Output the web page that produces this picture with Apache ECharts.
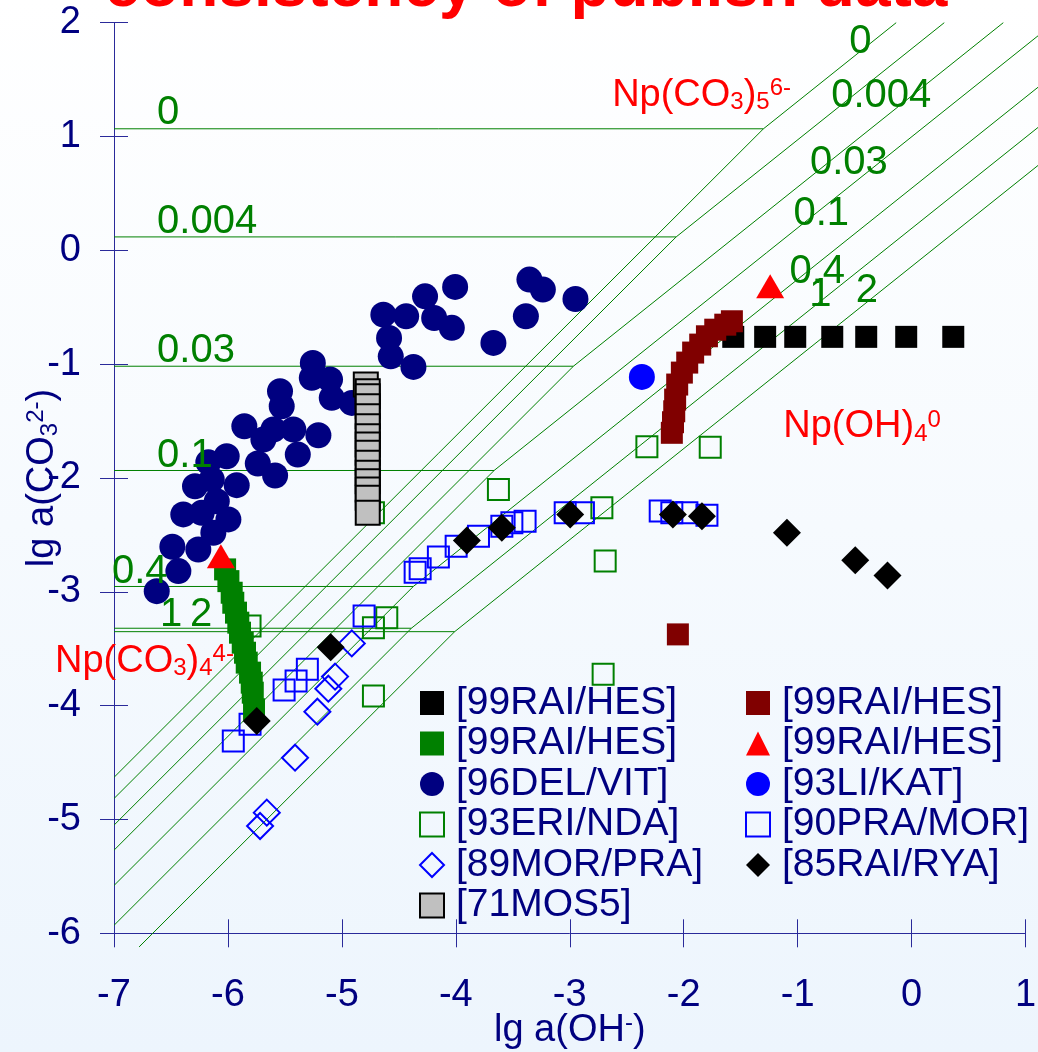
<!DOCTYPE html>
<html>
<head>
<meta charset="utf-8">
<script src="https://cdn.jsdelivr.net/npm/echarts@6/dist/echarts.min.js"></script>
<style>
html, body { margin: 0; padding: 0; }
#main { width: 1038px; height: 1052px; }
</style>
</head>
<body>
<div id="main"></div>
<script>
var FONT = '"Liberation Sans", Arial, sans-serif';
var NAVY = '#000080';
var AXIS = '#2a2a9a';
var GREEN = '#008000';
var RED = '#ff0000';

// lg a(OH-), lg a(CO3 2-) pairs
var blackSquares = [[-1.565,-0.76],[-1.285,-0.76],[-1.021,-0.76],[-0.696,-0.76],[-0.398,-0.76],[-0.047,-0.76],[0.366,-0.76]];
var maroonSquares = [[-2.104,-1.603],[-2.094,-1.51],[-2.083,-1.414],[-2.075,-1.311],[-2.057,-1.179],[-2.016,-1.074],[-1.969,-0.986],
  [-1.917,-0.898],[-1.855,-0.828],[-1.796,-0.755],[-1.723,-0.697],[-1.635,-0.653],[-1.577,-0.623],[-2.051,-3.374]];
var greenSquares = [[-6.025,-2.803],[-5.996,-2.906],[-5.967,-3.008],[-5.953,-3.096],[-5.929,-3.183],[-5.909,-3.271],[-5.894,-3.359],
  [-5.870,-3.447],[-5.850,-3.535],[-5.835,-3.622],[-5.806,-3.710],[-5.791,-3.798],[-5.782,-3.886],[-5.771,-4.032]];
var redTriangles = [[-6.062,-2.687],[-1.241,-0.316]];
var navyCircles = [[-6.625,-2.994],[-6.488,-2.604],[-6.435,-2.818],[-6.392,-2.320],[-6.289,-2.072],[-6.260,-2.628],[-6.230,-2.306],
  [-6.172,-1.861],[-6.142,-2.013],[-6.128,-2.481],[-6.098,-2.204],[-6.011,-1.809],[-5.996,-2.364],[-5.923,-2.063],[-5.856,-1.545],
  [-5.738,-1.873],[-5.689,-1.662],[-5.601,-1.574],[-5.586,-1.978],[-5.543,-1.238],[-5.528,-1.370],[-5.426,-1.574],[-5.387,-1.794],
  [-5.264,-1.120],[-5.255,-0.989],[-5.206,-1.624],[-5.104,-1.135],[-5.089,-1.296],[-4.913,-1.340],[-4.636,-0.565],[-4.586,-0.769],
  [-4.571,-0.931],[-4.436,-0.579],[-4.372,-1.024],[-4.270,-0.404],[-4.190,-0.594],[-4.035,-0.681],[-4.006,-0.321],[-3.670,-0.813],
  [-3.385,-0.579],[-3.354,-0.257],[-3.236,-0.345],[-2.950,-0.427]];
var blueCircle = [[-2.367,-1.112]];
var greenHollow = [[-4.723,-2.306],[-3.626,-2.101],[-4.606,-3.227],[-4.723,-3.315],[-5.806,-3.301],[-4.723,-3.916],[-2.718,-2.262],
  [-2.323,-1.726],[-1.767,-1.730],[-2.689,-2.730],[-2.707,-3.725]];
var blueHollow = [[-5.953,-4.311],[-5.806,-4.164],[-5.507,-3.863],[-5.402,-3.784],[-5.303,-3.681],[-4.805,-3.213],[-4.357,-2.827],
  [-4.313,-2.797],[-4.153,-2.695],[-3.997,-2.599],[-3.801,-2.511],[-3.596,-2.423],[-3.508,-2.394],[-3.392,-2.379],[-3.04,-2.306],
  [-2.88,-2.306],[-2.206,-2.291],[-2.104,-2.306],[-1.972,-2.306],[-1.796,-2.327]];
var blueDiamonds = [[-4.913,-3.453],[-5.060,-3.745],[-5.119,-3.851],[-5.215,-4.053],[-5.411,-4.457],[-5.659,-4.940],[-5.718,-5.057]];
var blackDiamonds = [[-5.747,-4.135],[-5.098,-3.486],[-3.903,-2.549],[-3.596,-2.437],[-2.996,-2.320],[-2.095,-2.320],[-1.840,-2.335],
  [-1.094,-2.481],[-0.494,-2.722],[-0.211,-2.856]];
var greySquares = [[-4.790,-1.179],[-4.773,-1.238],[-4.773,-1.282],[-4.773,-1.370],[-4.773,-1.457],[-4.773,-1.545],[-4.773,-1.633],
  [-4.773,-1.706],[-4.773,-1.779],[-4.773,-1.867],[-4.773,-1.954],[-4.773,-2.028],[-4.773,-2.101],[-4.773,-2.174],[-4.773,-2.306]];

// predominance boundaries, one per ionic strength
var ionLabels = ['0', '0.004', '0.03', '0.1', '0.4', '1', '2'];
var triX = [-1.30, -2.066, -2.968, -3.664, -4.373, -4.39, -4.01];
var triY = [1.068, 0.118, -1.018, -1.934, -2.953, -3.32, -3.35];
var upX = [-0.135, 0.287, 0.805, 1.12, 1.12, 1.12, 1.12];
var upY = [2, 2, 2, 1.893, 1.441, 1.088, 0.754];
var lowX = [-7, -7, -7, -7, -7, -7, -6.78];
var lowY = [-4.63, -4.816, -5.05, -5.27, -5.58, -5.93, -6.12];

// label anchors
var leftLabelText = ['0', '0.004', '0.03', '0.1', '0.4', '1', '2'];
var leftLabelX = [-6.622, -6.622, -6.622, -6.622, -7.018, -6.596, -6.333];
var leftLabelY = [1.205, 0.252, -0.885, -1.807, -2.825, -3.203, -3.203];
var rightLabelX = [-0.450, -0.266, -0.550, -0.793, -0.828, -0.801, -0.392];
var rightLabelY = [1.828, 1.358, 0.770, 0.322, -0.187, -0.389, -0.358];
var speciesText = ['{m|Np(CO}{s|3}{m|)}{s|5}{p|6-}', '{m|Np(CO}{s|3}{m|)}{s|4}{p|4-}', '{m|Np(OH)}{s|4}{p|0}'];
var speciesX = [-2.628, -7.518, -1.126];
var speciesY = [1.358, -3.615, -1.552];

var legendNames = {
  rhBlack: '[99RAI/HES]', rhGreen: '[99RAI/HES]', delvit: '[96DEL/VIT]', erinda: '[93ERI/NDA]',
  morpra: '[89MOR/PRA]', mos: '[71MOS5]', rhMaroon: '[99RAI/HES]', rhRed: '[99RAI/HES]',
  likat: '[93LI/KAT]', pramor: '[90PRA/MOR]', rairya: '[85RAI/RYA]'
};

function rich(color) {
  return {
    m: { fontSize: 38, lineHeight: 38, color: color, fontFamily: FONT, verticalAlign: 'middle' },
    s: { fontSize: 24, lineHeight: 14, color: color, fontFamily: FONT, verticalAlign: 'bottom' },
    p: { fontSize: 24, lineHeight: 8, color: color, fontFamily: FONT, verticalAlign: 'top' }
  };
}

var boundaryLines = [];
for (var i = 0; i < ionLabels.length; i++) {
  boundaryLines.push({ coords: [[-7, triY[i]], [triX[i], triY[i]], [upX[i], upY[i]]] });
  boundaryLines.push({ coords: [[triX[i], triY[i]], [lowX[i], lowY[i]]] });
}

var annotations = [];
for (var i = 0; i < leftLabelText.length; i++) {
  annotations.push({ value: [leftLabelX[i], leftLabelY[i]], label: { formatter: leftLabelText[i], align: 'left', color: GREEN, fontSize: 40, lineHeight: 40 } });
}
for (var i = 0; i < ionLabels.length; i++) {
  annotations.push({ value: [rightLabelX[i], rightLabelY[i]], label: { formatter: ionLabels[i], align: 'center', color: GREEN, fontSize: 40, lineHeight: 40 } });
}
for (var i = 0; i < speciesText.length; i++) {
  annotations.push({ value: [speciesX[i], speciesY[i]], label: { formatter: speciesText[i], align: 'left', rich: rich(RED) } });
}

function scatter(name, data, symbol, size, style) {
  style.opacity = 1;
  return { name: name, type: 'scatter', data: data, symbol: symbol, symbolSize: size,
    itemStyle: style, silent: true, emphasis: { disabled: true } };
}

var hollow = function (c) { return { color: 'rgba(0,0,0,0)', borderColor: c, borderWidth: 2, opacity: 1 }; };

var legendText = { color: NAVY, fontSize: 39, fontFamily: FONT, lineHeight: 40, padding: [0, 0, 0, 7] };

var chart = echarts.init(document.getElementById('main'));
chart.setOption({
  animation: false,
  backgroundColor: { type: 'linear', x: 0, y: 0, x2: 0, y2: 1,
    colorStops: [{ offset: 0, color: '#ffffff' }, { offset: 1, color: '#edf5fd' }] },
  grid: { left: 114, right: 12.5, top: 22.7, bottom: 118.7, containLabel: false, outerBoundsMode: 'none' },
  graphic: [{ type: 'text', x: 526, y: -12, silent: true,
    style: { text: 'consistency of publish data', fill: RED, font: 'bold 64px ' + FONT, align: 'center', verticalAlign: 'middle' } }],
  xAxis: [{
    type: 'value', min: -7, max: 1, interval: 1, position: 'bottom',
    axisLine: { show: true, onZero: false, lineStyle: { color: AXIS, width: 1 } },
    axisTick: { show: true, inside: false, length: 14, lineStyle: { color: AXIS } },
    axisLabel: { color: NAVY, fontSize: 38, lineHeight: 38, fontFamily: FONT, margin: 43, showMinLabel: true, showMaxLabel: true },
    splitLine: { show: false },
    name: '{m|lg a(OH}{p|-}{m|)}', nameLocation: 'middle', nameGap: 78, nameMoveOverlap: false,
    nameTextStyle: { rich: rich(NAVY) }
  }, {
    type: 'value', min: -7, max: 1, interval: 1, position: 'bottom',
    axisLine: { show: false, onZero: false },
    axisTick: { show: true, inside: true, length: 14, lineStyle: { color: AXIS } },
    axisLabel: { show: false }, splitLine: { show: false }
  }],
  yAxis: [{
    type: 'value', min: -6, max: 2, interval: 1, position: 'left',
    axisLine: { show: true, onZero: false, lineStyle: { color: AXIS, width: 1 } },
    axisTick: { show: true, inside: false, length: 14, lineStyle: { color: AXIS } },
    axisLabel: { color: NAVY, fontSize: 38, lineHeight: 38, fontFamily: FONT, margin: 33, showMinLabel: true, showMaxLabel: true },
    splitLine: { show: false },
    name: '{m|lg a(CO}{s|3}{p|2-}{m|)}', nameLocation: 'middle', nameRotate: 90, nameGap: 52, nameMoveOverlap: false,
    nameTextStyle: { rich: rich(NAVY) }
  }, {
    type: 'value', min: -6, max: 2, interval: 1, position: 'left',
    axisLine: { show: false, onZero: false },
    axisTick: { show: true, inside: true, length: 14, lineStyle: { color: AXIS } },
    axisLabel: { show: false }, splitLine: { show: false }
  }],
  legend: [{
    orient: 'vertical', left: 419, top: 683, padding: 0, itemWidth: 24, itemHeight: 24, itemGap: 0.5,
    selectedMode: false, textStyle: legendText,
    formatter: function (n) { return legendNames[n]; },
    data: ['rhBlack', 'rhGreen', 'delvit',
      { name: 'erinda', itemStyle: hollow(GREEN) },
      { name: 'morpra', itemStyle: hollow('#0000ff') },
      { name: 'mos', itemStyle: { color: '#c0c0c0', borderColor: '#000', borderWidth: 2, opacity: 1 } }]
  }, {
    orient: 'vertical', left: 745, top: 683, padding: 0, itemWidth: 24, itemHeight: 24, itemGap: 0.5,
    selectedMode: false, textStyle: legendText,
    formatter: function (n) { return legendNames[n]; },
    data: ['rhMaroon', 'rhRed', 'likat', { name: 'pramor', itemStyle: hollow('#0000ff') }, 'rairya']
  }],
  series: [
    { type: 'lines', coordinateSystem: 'cartesian2d', polyline: true, clip: false, silent: true,
      lineStyle: { color: GREEN, width: 1, opacity: 1 }, data: boundaryLines },
    scatter('erinda', greenHollow, 'rect', 21, hollow(GREEN)),
    scatter('pramor', blueHollow, 'rect', 21, hollow('#0000ff')),
    scatter('morpra', blueDiamonds, 'diamond', 26, hollow('#0000ff')),
    scatter('delvit', navyCircles, 'circle', 26, { color: NAVY }),
    scatter('likat', blueCircle, 'circle', 26, { color: '#0000ff' }),
    scatter('rhGreen', greenSquares, 'rect', 22, { color: GREEN }),
    scatter('rhRed', redTriangles, 'triangle', [28, 24], { color: RED }),
    scatter('rhBlack', blackSquares, 'rect', 22, { color: '#000000' }),
    scatter('rhMaroon', maroonSquares, 'rect', 22, { color: '#800000' }),
    scatter('rairya', blackDiamonds, 'diamond', 28, { color: '#000000' }),
    scatter('mos', greySquares, 'rect', 24, { color: '#c0c0c0', borderColor: '#000000', borderWidth: 2 }),
    { type: 'scatter', symbol: 'circle', symbolSize: 1, clip: false, silent: true,
      itemStyle: { color: 'rgba(0,0,0,0)', opacity: 1 },
      label: { show: true, position: 'inside', verticalAlign: 'middle', fontSize: 38, lineHeight: 38, fontFamily: FONT, opacity: 1 },
      data: annotations }
  ]
});
</script>
</body>
</html>
